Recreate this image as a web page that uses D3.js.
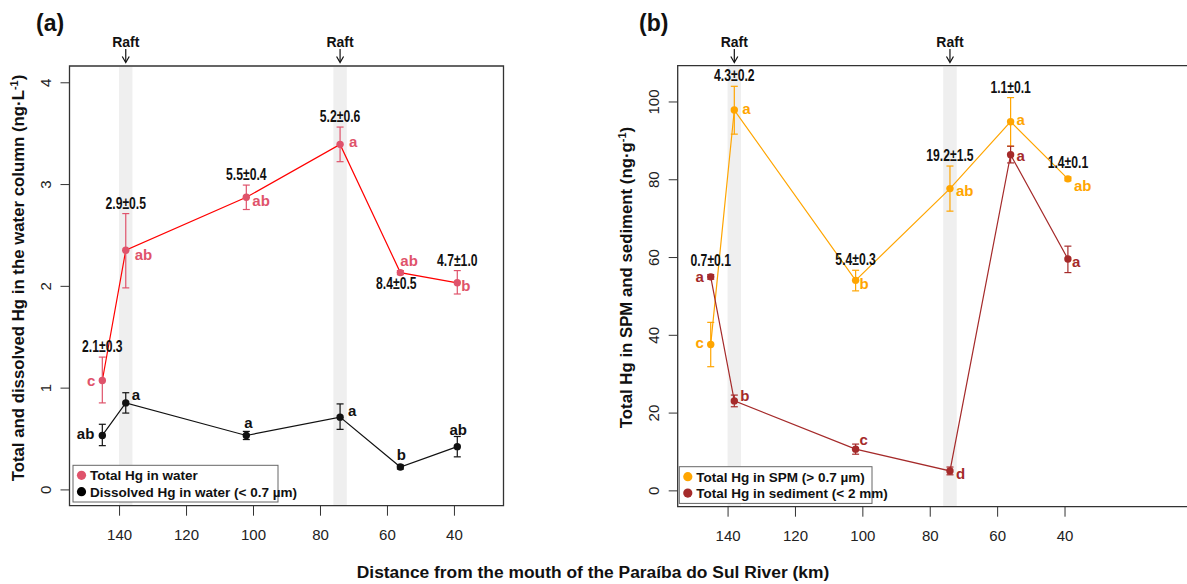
<!DOCTYPE html>
<html>
<head>
<meta charset="utf-8">
<title>Hg along the Paraiba do Sul River</title>
<script src="https://cdn.jsdelivr.net/npm/d3@7"></script>
<style>
    body { margin: 0; background: #fff; overflow: hidden; }
    svg { display: block; overflow: hidden; }
    svg text { font-family: "Liberation Sans", Arial, sans-serif; }
    .tick text { font-size: 15px; fill: #222; }
    .tick line { stroke: #333; }
    .note { font-weight: bold; font-size: 16px; fill: #111; }
    .letter { font-weight: bold; font-size: 15px; }
</style>
</head>
<body>
<script>
// distance from the river mouth (km) for the six sampling sites
var distance = [145, 138, 102, 74, 56, 39];
var rafts = [138, 74];
var raftBands = [[140, 136], [76, 72]];
var xTicks = [140, 120, 100, 80, 60, 40];

// panel (a): water column, ng/L
var totalWater    = [1.07, 2.35, 2.87, 3.39, 2.13, 2.03];
var totalWaterLo  = [0.85, 1.98, 2.75, 3.22, 2.11, 1.92];
var totalWaterHi  = [1.30, 2.71, 2.99, 3.56, 2.15, 2.15];
var totalWaterLetters = ["c", "ab", "ab", "a", "ab", "b"];
var totalWaterNotes = ["2.1±0.3", "2.9±0.5", "5.5±0.4", "5.2±0.6", "8.4±0.5", "4.7±1.0"];

var dissolved    = [0.53, 0.85, 0.53, 0.71, 0.22, 0.42];
var dissolvedLo  = [0.43, 0.75, 0.49, 0.59, 0.20, 0.32];
var dissolvedHi  = [0.64, 0.95, 0.57, 0.84, 0.24, 0.52];
var dissolvedLetters = ["ab", "a", "a", "a", "b", "ab"];

// panel (b): SPM and sediment, ng/g
var spm    = [37.5, 97.8, 54.0, 77.6, 94.8, 80.1];
var spmLo  = [31.8, 91.6, 51.3, 71.8, 88.5, 79.6];
var spmHi  = [43.2, 103.9, 56.6, 83.4, 101.0, 80.6];
var spmLetters = ["c", "a", "b", "ab", "a", "ab"];
var spmNotes = [null, "4.3±0.2", "5.4±0.3", "19.2±1.5", "1.1±0.1", "1.4±0.1"];

var sediment    = [54.9, 23.0, 10.6, 5.0, 86.3, 59.5];
var sedimentLo  = [54.3, 21.5, 9.3, 4.0, 84.2, 56.0];
var sedimentHi  = [55.5, 24.5, 11.9, 6.0, 88.5, 62.8];
var sedimentLetters = ["a", "b", "c", "d", "a", "a"];
var sedimentNotes = ["0.7±0.1", null, null, null, null, null];

// label placement (pixel offsets from the point): [dx, dy, anchor]
var offTotal = [[-7, 0, "end"], [9, 5, "start"], [6, 4, "start"], [9, -2, "start"], [0, -12, "start"], [4, 3, "start"]];
var offDiss  = [[-8, -1, "end"], [6, -8, "start"], [2, -12, "middle"], [8, -6, "start"], [1, -12, "middle"], [1, -17, "middle"]];
var offSpm   = [[-7, -2, "end"], [8, -1, "start"], [4, 4, "start"], [6, 2, "start"], [6, -2, "start"], [6, 7, "start"]];
var offSed   = [[-7, 0, "end"], [6, -5, "start"], [4, -9, "start"], [6, 3, "start"], [6, 1, "start"], [4, 3, "start"]];

var W = 1187, H = 584;
var svg = d3.select("body").append("svg").attr("width", W).attr("height", H);

// the value notes in the figure are set in a condensed face
function condense(sel, k) {
    sel.each(function() {
        var w = this.getComputedTextLength();
        d3.select(this).attr("textLength", w * k).attr("lengthAdjust", "spacingAndGlyphs");
    });
}

function panel(cfg) {
    var g = svg.append("g");
    var x = cfg.x, y = cfg.y;
    var top = y.range()[1], bottom = y.range()[0];

    // raft bands
    g.selectAll("rect.band").data(raftBands).enter().append("rect")
        .attr("x", function(d) { return x(d[0]); })
        .attr("width", function(d) { return x(d[1]) - x(d[0]); })
        .attr("y", top + 1).attr("height", bottom - top - 1)
        .attr("fill", "#efefef");

    // raft markers above the box
    rafts.forEach(function(r) {
        g.append("text").attr("x", x(r)).attr("y", 47)
            .attr("text-anchor", "middle").attr("font-weight", "bold")
            .attr("font-size", "14px").attr("fill", "#111").text("Raft");
        g.append("line").attr("x1", x(r)).attr("x2", x(r))
            .attr("y1", 49).attr("y2", 62).attr("stroke", "#111").attr("stroke-width", 1.2);
        g.append("path").attr("d", "M" + (x(r) - 3.5) + ",56.5 L" + x(r) + ",62.5 L" + (x(r) + 3.5) + ",56.5")
            .attr("fill", "none").attr("stroke", "#111").attr("stroke-width", 1.2);
    });

    // axes
    var xa = g.append("g").attr("transform", "translate(0," + bottom + ")")
        .call(d3.axisBottom(x).tickValues(xTicks).tickSize(10).tickPadding(14));
    xa.select(".domain").remove();

    var ya = g.append("g").attr("transform", "translate(" + cfg.left + ",0)")
        .call(d3.axisLeft(y).tickValues(cfg.yTicks).tickFormat(d3.format("d")).tickSize(9));
    ya.select(".domain").remove();
    ya.selectAll("text").attr("x", null).attr("dy", null)
        .attr("text-anchor", "middle").attr("transform", "translate(-19,0) rotate(-90)");

    // box (panel b runs off the right edge, so only draw the sides that exist)
    var boxPath = "M" + cfg.right + "," + top + " L" + cfg.left + "," + top +
        " L" + cfg.left + "," + bottom + " L" + cfg.right + "," + bottom;
    if (cfg.closed) boxPath += " Z";
    g.append("path").attr("d", boxPath)
        .attr("fill", "none").attr("stroke", "#333").attr("stroke-width", 1.3);

    cfg.series.forEach(function(s) {
        var pts = distance.map(function(d, i) { return i; });
        var line = d3.line().x(function(i) { return x(distance[i]); }).y(function(i) { return y(s.v[i]); });
        g.append("path").attr("d", line(pts)).attr("fill", "none")
            .attr("stroke", s.line).attr("stroke-width", 1.2);

        // error bars
        var eb = g.selectAll(null).data(pts).enter().append("g").attr("stroke", s.err).attr("stroke-width", 1.2);
        eb.append("line").attr("x1", function(i) { return x(distance[i]); }).attr("x2", function(i) { return x(distance[i]); })
            .attr("y1", function(i) { return y(s.lo[i]); }).attr("y2", function(i) { return y(s.hi[i]); });
        eb.append("line").attr("x1", function(i) { return x(distance[i]) - 3.5; }).attr("x2", function(i) { return x(distance[i]) + 3.5; })
            .attr("y1", function(i) { return y(s.lo[i]); }).attr("y2", function(i) { return y(s.lo[i]); });
        eb.append("line").attr("x1", function(i) { return x(distance[i]) - 3.5; }).attr("x2", function(i) { return x(distance[i]) + 3.5; })
            .attr("y1", function(i) { return y(s.hi[i]); }).attr("y2", function(i) { return y(s.hi[i]); });

        g.selectAll(null).data(pts).enter().append("circle")
            .attr("cx", function(i) { return x(distance[i]); })
            .attr("cy", function(i) { return y(s.v[i]); })
            .attr("r", 3.7).attr("fill", s.pt);

        g.selectAll(null).data(pts).enter().append("text").attr("class", "letter")
            .attr("fill", s.pt)
            .attr("x", function(i) { return x(distance[i]) + s.off[i][0]; })
            .attr("y", function(i) { return y(s.v[i]) + s.off[i][1] + 5; })
            .attr("text-anchor", function(i) { return s.off[i][2]; })
            .text(function(i) { return s.letters[i]; });

        if (s.notes) {
            var withNote = pts.filter(function(i) { return s.notes[i]; });
            g.selectAll(null).data(withNote).enter().append("text").attr("class", "note")
                .attr("text-anchor", "middle")
                .attr("x", function(i) { return x(distance[i]) + (s.noteBelow === i ? -4 : 0); })
                .attr("y", function(i) {
                    if (s.noteBelow === i) return y(s.v[i]) + 16;
                    return Math.min(y(s.hi[i]), y(s.v[i]) - 6) - 5;
                })
                .text(function(i) { return s.notes[i]; })
                .call(condense, 0.76);
        }
    });

    // legend
    var lg = g.append("g");
    lg.append("rect").attr("x", cfg.legend[0]).attr("y", cfg.legend[1])
        .attr("width", cfg.legend[2]).attr("height", 36.7)
        .attr("fill", "#fff").attr("stroke", "#666").attr("stroke-width", 1);
    cfg.legendItems.forEach(function(it, k) {
        var cy = cfg.legend[1] + 10 + k * 16.4;
        lg.append("circle").attr("cx", cfg.legend[0] + 8.5).attr("cy", cy).attr("r", 4.6).attr("fill", it[1]);
        lg.append("text").attr("x", cfg.legend[0] + 17).attr("y", cy + 4.8)
            .attr("font-weight", "bold").attr("font-size", "13.5px").attr("fill", "#111").text(it[0]);
    });

    // panel tag and y title
    g.append("text").attr("x", cfg.tagX).attr("y", 31).attr("font-weight", "bold")
        .attr("font-size", "23px").attr("fill", "#111").text(cfg.tag);
    g.append("text").attr("transform", "translate(" + cfg.titleX + "," + cfg.titleY + ") rotate(-90)")
        .attr("text-anchor", "middle").attr("font-weight", "bold").attr("font-size", "16.8px")
        .attr("fill", "#111").html(cfg.title);
}

panel({
    tag: "(a)", tagX: 36,
    left: 69.5, right: 503.5, closed: true,
    x: d3.scaleLinear().domain([154.8, 25.2]).range([69.5, 503.5]),
    y: d3.scaleLinear().domain([-0.16, 4.16]).range([505.7, 66]),
    yTicks: [0, 1, 2, 3, 4],
    titleX: 24, titleY: 278,
    title: "Total and dissolved Hg in the water column (ng·L<tspan dy='-6' font-size='11px'>-1</tspan><tspan dy='6'>)</tspan>",
    legend: [73, 465.3, 205],
    legendItems: [["Total Hg in water", "#df536b"], ["Dissolved Hg in water (< 0.7 µm)", "#000"]],
    series: [
        { v: totalWater, lo: totalWaterLo, hi: totalWaterHi, letters: totalWaterLetters, notes: totalWaterNotes,
          noteBelow: 4, off: offTotal, pt: "#df536b", line: "#ff0000", err: "#df536b" },
        { v: dissolved, lo: dissolvedLo, hi: dissolvedHi, letters: dissolvedLetters,
          off: offDiss, pt: "#111", line: "#111", err: "#111" }
    ]
});

panel({
    tag: "(b)", tagX: 639,
    left: 677.7, right: 1190, closed: false,
    x: d3.scaleLinear().domain([154.8, 25.2]).range([677.7, 1114.4]),
    y: d3.scaleLinear().domain([-4.2, 109.2]).range([506.7, 65.7]),
    yTicks: [0, 20, 40, 60, 80, 100],
    titleX: 631.5, titleY: 277.5,
    title: "Total Hg in SPM and sediment (ng·g<tspan dy='-6' font-size='11px'>-1</tspan><tspan dy='6'>)</tspan>",
    legend: [679.3, 466.7, 192.7],
    legendItems: [["Total Hg in SPM (> 0.7 µm)", "#ffa500"], ["Total Hg in sediment (< 2 mm)", "#a52a2a"]],
    series: [
        { v: spm, lo: spmLo, hi: spmHi, letters: spmLetters, notes: spmNotes,
          off: offSpm, pt: "#ffa500", line: "#ffa500", err: "#ffa500" },
        { v: sediment, lo: sedimentLo, hi: sedimentHi, letters: sedimentLetters, notes: sedimentNotes,
          off: offSed, pt: "#a52a2a", line: "#a52a2a", err: "#a52a2a" }
    ]
});

svg.append("text").attr("x", 593).attr("y", 578).attr("text-anchor", "middle")
    .attr("font-weight", "bold").attr("font-size", "17.4px").attr("fill", "#111")
    .text("Distance from the mouth of the Paraíba do Sul River (km)");
</script>
</body>
</html>
